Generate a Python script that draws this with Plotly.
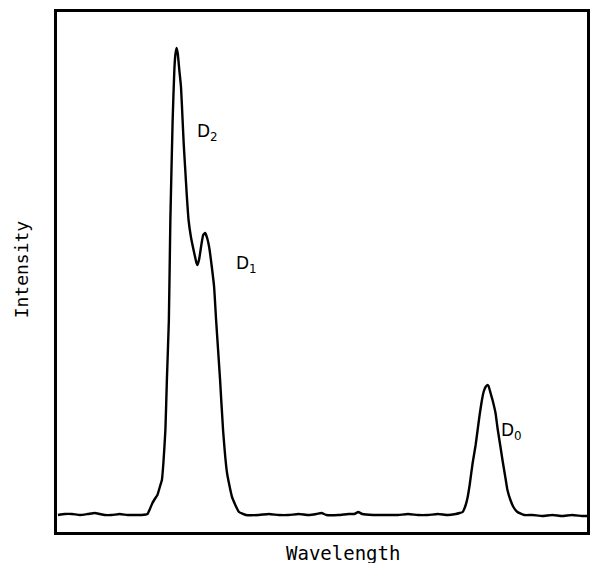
import plotly.graph_objects as go

# Trace (arbitrary wavelength units, arbitrary intensity units)
wavelength = [1, 8, 15, 23, 31, 38, 43, 48, 55, 63, 71, 78, 85, 91,
              93, 96, 99, 101, 104, 105.5, 107, 109, 110.5, 112.5, 114, 116.3, 118, 119, 120.3,
              121.5, 123, 124.7, 126.3, 127.5, 129, 130.5, 132.3, 134.7, 138, 140.3, 141.3,
              143, 145, 147, 149, 151, 153, 155.7, 158, 160, 162, 164, 167, 171, 176, 183, 190,
              203, 213, 223, 233, 243, 253, 261, 266, 271, 283, 293, 299, 303, 307, 318, 333,
              343, 353, 363, 373, 383, 393, 401, 405,
              408, 411, 413, 415, 418, 421, 423, 425, 427, 429, 431, 433, 434, 436, 438, 441,
              443, 446, 448, 451, 453, 456, 459, 463, 470,
              478, 488, 498, 508, 518, 528, 533]
intensity = [17, 18, 18, 17, 18, 19, 18, 17, 17, 18, 17, 17, 17, 18,
             22, 29, 34, 37, 47, 52, 69, 102, 152, 212, 312, 412, 462, 477, 484,
             478, 462, 445, 412, 387, 362, 337, 312, 295, 279, 269, 267,
             273, 286, 297, 299, 294, 285, 265, 245, 212, 182, 152, 102, 59, 35, 20, 17,
             17, 18, 17, 17, 18, 17, 18, 19, 17, 17, 18, 18, 20, 18, 17, 17,
             17, 18, 17, 17, 18, 17, 18, 19,
             20, 27, 35, 47, 69, 87, 102, 117, 130, 140, 145, 147, 146, 139, 132, 119,
             104, 85, 72, 54, 42, 32, 25, 20, 17,
             17, 16, 17, 16, 17, 16, 16]

labels = ["D<sub>2</sub>", "D<sub>1</sub>", "D<sub>0</sub>"]
label_x = [139, 178, 444]
label_y = [400, 268, 101]

fig = go.Figure()
fig.add_trace(go.Scatter(
    x=wavelength, y=intensity, mode="lines",
    line=dict(color="black", width=2.4, shape="spline", smoothing=0.4),
    hoverinfo="skip", showlegend=False,
))

for t, xx, yy in zip(labels, label_x, label_y):
    fig.add_annotation(x=xx, y=yy, text=t, showarrow=False, xanchor="left", yanchor="middle",
                       font=dict(family="DejaVu Sans", size=17, color="black"))

axis_common = dict(showgrid=False, zeroline=False, showticklabels=False, ticks="",
                   showline=True, linecolor="black", linewidth=3, mirror=True)

fig.update_layout(
    width=593, height=563,
    margin=dict(l=57, r=3, t=12, b=31),
    paper_bgcolor="white", plot_bgcolor="white",
    xaxis=dict(range=[0, 533], **axis_common),
    yaxis=dict(range=[0, 520], **axis_common),
    annotations=list(fig.layout.annotations) + [
        dict(text="Wavelength", xref="paper", yref="paper", x=0.54, y=-0.04,
             xanchor="center", yanchor="middle", showarrow=False,
             font=dict(family="DejaVu Sans Mono", size=19, color="black")),
        dict(text="Intensity", xref="paper", yref="paper", x=-0.068, y=0.505,
             xanchor="center", yanchor="middle", showarrow=False, textangle=-90,
             font=dict(family="DejaVu Sans Mono", size=18, color="black")),
    ],
)

fig.write_html("out.html", config={"displayModeBar": False},
               post_script="document.body.style.margin='0';document.body.style.overflow='hidden';")
